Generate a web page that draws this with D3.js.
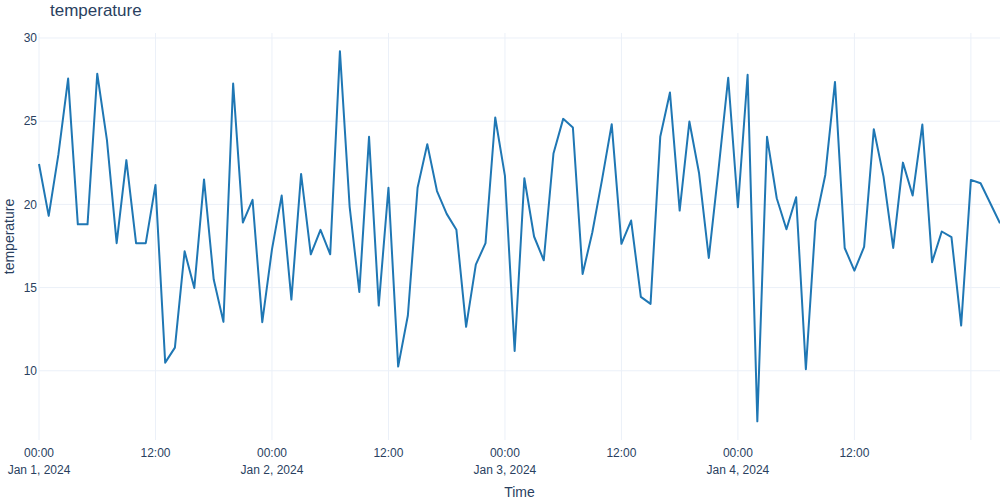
<!DOCTYPE html>
<html>
<head>
<meta charset="utf-8">
<script src="https://cdn.jsdelivr.net/npm/d3@7"></script>
<style>
  body { margin: 0; background: #fff; }
  svg { display: block; font-family: "Liberation Sans", Arial, sans-serif; }
</style>
</head>
<body>
<svg id="mainChart" width="1000" height="500"></svg>
<script>
// hourly readings starting Jan 1, 2024 00:00
var startTime = new Date(Date.UTC(2024, 0, 1, 0, 0));
var temperature = [
  22.43, 19.31, 23.0, 27.56, 18.8, 18.8, 27.85, 23.86, 17.67, 22.66,
  17.67, 17.67, 21.17, 10.49, 11.39, 17.18, 14.98, 21.5, 15.48, 12.94,
  27.26, 18.91, 20.27, 12.92, 17.3, 20.53, 14.28, 21.83, 17.0, 18.47,
  17.0, 29.21, 19.87, 14.74, 24.06, 13.92, 21.0, 10.25, 13.32, 21.0,
  23.62, 20.8, 19.43, 18.47, 12.64, 16.38, 17.67, 25.22, 21.71, 11.19,
  21.57, 18.07, 16.64, 23.06, 25.14, 24.62, 15.82, 18.31, 21.47, 24.82,
  17.63, 19.03, 14.44, 14.02, 24.06, 26.72, 19.63, 24.98, 21.87, 16.78,
  22.07, 27.61, 19.83, 27.79, 6.96, 24.06, 20.37, 18.51, 20.43, 10.09,
  18.97, 21.77, 27.36, 17.38, 16.02, 17.44, 24.52, 21.67, 17.38, 22.51,
  20.53, 24.8, 16.52, 18.37, 18.03, 12.72, 21.47, 21.27, 20.07, 18.87
];
var yTicks = [10, 15, 20, 25, 30];
var chartTitle = "temperature";
var xTitle = "Time";
var yTitle = "temperature";

function drawChart() {
  var times = temperature.map(function(d, i) {
    return d3.utcHour.offset(startTime, i);
  });
  var data = temperature.map(function(v, i) {
    return { t: times[i], v: v };
  });

  var svg = d3.select("#mainChart");
  var plotLeft = 39, plotRight = 1000, plotTop = 33, plotBottom = 440;
  var ink = "#2a3f5f", grid = "#ebf0f8";

  var x = d3.scaleUtc()
    .domain([times[0], times[times.length - 1]])
    .range([plotLeft, plotRight]);
  var y = d3.scaleLinear()
    .domain([5.84, 30.3])
    .range([plotBottom, plotTop]);

  var xTickVals = d3.utcHour.every(12).range(times[0], d3.utcHour.offset(times[times.length - 1], 1));

  // grid
  svg.append("g")
    .selectAll("line")
    .data(xTickVals)
    .enter()
    .append("line")
    .attr("x1", function(d) { return x(d); })
    .attr("x2", function(d) { return x(d); })
    .attr("y1", plotTop)
    .attr("y2", plotBottom)
    .attr("stroke", grid)
    .attr("stroke-width", 1);

  svg.append("g")
    .selectAll("line")
    .data(yTicks)
    .enter()
    .append("line")
    .attr("x1", plotLeft)
    .attr("x2", plotRight)
    .attr("y1", function(d) { return y(d); })
    .attr("y2", function(d) { return y(d); })
    .attr("stroke", grid)
    .attr("stroke-width", 1);

  // y tick labels
  svg.append("g")
    .selectAll("text")
    .data(yTicks)
    .enter()
    .append("text")
    .attr("x", plotLeft - 2)
    .attr("y", function(d) { return y(d); })
    .attr("dy", "0.35em")
    .attr("text-anchor", "end")
    .attr("font-size", 12)
    .attr("fill", ink)
    .text(function(d) { return d; });

  // x tick labels (last midnight label would be cut off)
  var fmtTime = d3.utcFormat("%H:%M");
  var fmtDay = d3.utcFormat("%b %-d, %Y");
  var xl = svg.append("g")
    .selectAll("text")
    .data(xTickVals.filter(function(d) { return x(d) < plotRight - 40; }))
    .enter()
    .append("text")
    .attr("x", function(d) { return x(d); })
    .attr("y", 457)
    .attr("text-anchor", "middle")
    .attr("font-size", 12)
    .attr("fill", ink);
  xl.append("tspan")
    .attr("x", function(d) { return x(d); })
    .text(function(d) { return fmtTime(d); });
  xl.filter(function(d) { return d.getUTCHours() === 0; })
    .append("tspan")
    .attr("x", function(d) { return x(d); })
    .attr("dy", 16.5)
    .text(function(d) { return fmtDay(d); });

  // line
  var line = d3.line()
    .x(function(d) { return x(d.t); })
    .y(function(d) { return y(d.v); });

  svg.append("path")
    .datum(data)
    .attr("d", line)
    .attr("fill", "none")
    .attr("stroke", "#1f77b4")
    .attr("stroke-width", 2)
    .attr("stroke-linejoin", "round");

  // titles
  svg.append("text")
    .attr("x", 50)
    .attr("y", 16)
    .attr("font-size", 17)
    .attr("fill", ink)
    .text(chartTitle);

  svg.append("text")
    .attr("x", (plotLeft + plotRight) / 2)
    .attr("y", 497)
    .attr("text-anchor", "middle")
    .attr("font-size", 14)
    .attr("fill", ink)
    .text(xTitle);

  svg.append("text")
    .attr("transform", "translate(14," + (plotTop + plotBottom) / 2 + ") rotate(-90)")
    .attr("text-anchor", "middle")
    .attr("font-size", 14)
    .attr("fill", ink)
    .text(yTitle);
}

drawChart();
</script>
</body>
</html>
